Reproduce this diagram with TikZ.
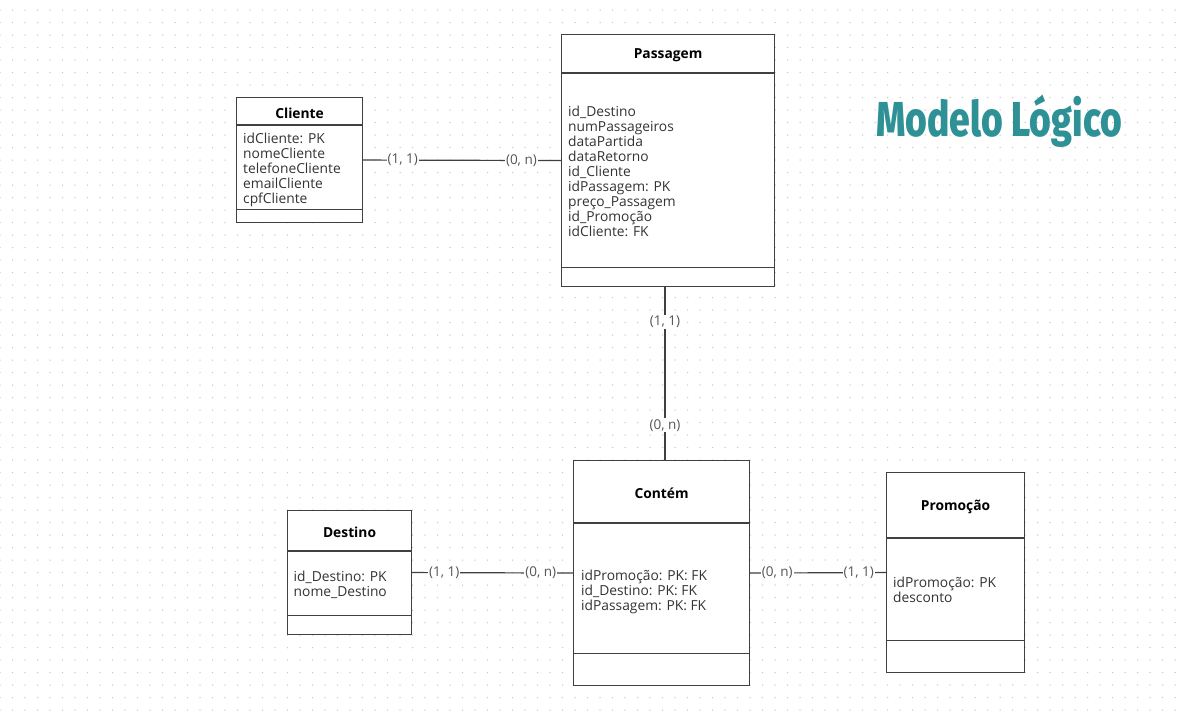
\documentclass[tikz,border=0pt]{standalone}
\usepackage{fontspec}
\setmainfont{Open Sans}
\newfontfamily\titlefont[FakeStretch=0.76, BoldFont={Fira Sans ExtraBold}]{Fira Sans}
\usetikzlibrary{positioning, calc}
\definecolor{titleteal}{HTML}{2E9196}
\definecolor{griddots}{HTML}{C8C8C8}
\definecolor{boxline}{HTML}{404040}
\definecolor{attrtext}{HTML}{333333}
\definecolor{cardtext}{HTML}{555555}
\tikzset{
  griddot/.style={draw=griddots, line width=1.5pt, line cap=round, dash pattern=on 0pt off 12.5pt},
  entbox/.style={draw=boxline, line width=1.1pt, fill=white, inner sep=0pt, anchor=north west},
  entline/.style={draw=boxline, line width=1.1pt},
  enttitle/.style={font=\fontsize{13.8}{15}\selectfont\bfseries, text=black},
  entattr/.style={font=\fontsize{13.8}{15}\selectfont, text=attrtext, align=left, inner sep=0pt, anchor=north west},
  rel/.style={draw=boxline, line width=1.2pt},
  card/.style={font=\fontsize{13.5}{15}\selectfont, text=cardtext, fill=white, inner sep=1pt}
}
% entity: name, x, y, width, height, header height, footer height, title
\newcommand{\entity}[8]{%
  \node[entbox, minimum width=#4, minimum height=#5] (#1) at (#2,#3) {};
  \draw[entline] ([yshift=-#6]#1.north west) -- ([yshift=-#6]#1.north east);
  \draw[entline] ([yshift=#7]#1.south west) -- ([yshift=#7]#1.south east);
  \node[enttitle] (#1-title) at ([yshift=-#6/2-2]#1.north) {#8};}

\begin{document}
\begin{tikzpicture}[x=1pt, y=-1pt]
\useasboundingbox (0,0) rectangle (1182,718);
\fill[white] (0,0) rectangle (1182,718);
% dotted grid
\foreach \gy in {0,...,56}
  \draw[griddot] (0,{10+12.5*\gy}) -- (1182,{10+12.5*\gy});
% title
\node[anchor=base west, inner sep=0pt, text=titleteal, font=\titlefont\bfseries\fontsize{49}{52}\selectfont]
  (modelo) at (876,136) {Modelo Lógico};
% entities
\entity{cliente}{236}{97}{126}{125}{28}{14}{Cliente}
\node[entattr] (cliente-attr) at (243,133)
  {idCliente: PK\\nomeCliente\\telefoneCliente\\emailCliente\\cpfCliente};
\entity{passagem}{561}{34}{213}{252}{39}{20}{Passagem}
\node[entattr] (passagem-attr) at (568,105.5)
  {id\_Destino\\numPassageiros\\dataPartida\\dataRetorno\\id\_Cliente\\idPassagem: PK\\preço\_Passagem\\id\_Promoção\\idCliente: FK};
\entity{destino}{287}{510}{124}{124}{41}{20}{Destino}
\node[entattr] (destino-attr) at (293.5,570.5)
  {id\_Destino: PK\\nome\_Destino};
\entity{contem}{573}{460}{176}{225}{63}{33}{Contém}
\node[entattr] (contem-attr) at (581,569.5)
  {idPromoção: PK: FK\\id\_Destino: PK: FK\\idPassagem: PK: FK};
\entity{promocao}{886}{472}{138}{200}{66}{33}{Promoção}
\node[entattr] (promocao-attr) at (893,577)
  {idPromoção: PK\\desconto};
% relationships
\draw[rel] (cliente.east) -- node[card, pos=0.2] {(1, 1)} node[card, pos=0.8] {(0, n)} (passagem.west);
\draw[rel] ([xshift=-3pt]passagem.south) -- node[card, pos=0.2] {(1, 1)} node[card, pos=0.8] {(0, n)} ([xshift=-3pt]passagem.south |- contem.north);
\draw[rel] (destino.east) -- node[card, pos=0.2] {(1, 1)} node[card, pos=0.8] {(0, n)} (contem.west);
\draw[rel] (contem.east) -- node[card, pos=0.2] {(0, n)} node[card, pos=0.8] {(1, 1)} (promocao.west);
\end{tikzpicture}
\end{document}
